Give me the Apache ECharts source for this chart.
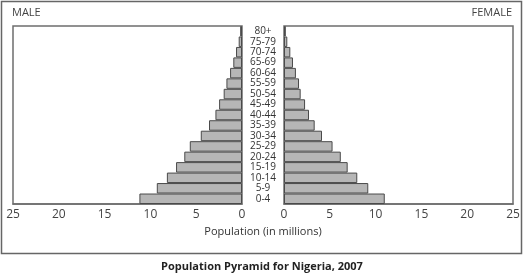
<!DOCTYPE html>
<html>
<head>
    <meta charset="utf-8">
    <script src="https://cdn.jsdelivr.net/npm/echarts@6/dist/echarts.min.js"></script>
    <style>body{margin:0;background:#fff}</style>
</head>
<body>
    <div id="main" style="width: 524px;height:277px;"></div>
    <script type="text/javascript">
        var myChart = echarts.init(document.getElementById('main'));

        // age groups, bottom to top
        var ageGroups = ['0-4', '5-9', '10-14', '15-19', '20-24', '25-29', '30-34', '35-39',
                         '40-44', '45-49', '50-54', '55-59', '60-64', '65-69', '70-74', '75-79', '80+'];
        // population in millions
        var male   = [11.2, 9.3, 8.2, 7.2, 6.3, 5.7, 4.5, 3.6, 2.9, 2.5, 2.0, 1.7, 1.3, 0.95, 0.65, 0.36, 0.2];
        var female = [11.0, 9.2, 8.0, 6.95, 6.2, 5.3, 4.15, 3.35, 2.73, 2.3, 1.82, 1.64, 1.3, 0.98, 0.69, 0.36, 0.2];
        var xTicks = [0, 5, 10, 15, 20, 25];

        var font = '"Open Sans", "Noto Sans", sans-serif';
        var frameColor = '#6e6e6e';

        function xAxisFor(gridIndex, inverse) {
            return {
                type: 'value', gridIndex: gridIndex, inverse: inverse,
                min: xTicks[0], max: xTicks[xTicks.length - 1], interval: 5,
                axisLine: { show: true, lineStyle: { color: frameColor, width: 1.5 } },
                axisTick: { show: false },
                splitLine: { show: false },
                axisLabel: { color: '#444', fontSize: 12, fontFamily: font, margin: 5 }
            };
        }

        var option = {
            animation: false,
            textStyle: { fontFamily: font },
            grid: [
                { left: 13, width: 229, top: 26, height: 178, show: true, borderColor: frameColor, borderWidth: 1.5 },
                { left: 284, width: 229, top: 26, height: 178, show: true, borderColor: frameColor, borderWidth: 1.5 }
            ],
            xAxis: [xAxisFor(0, true), xAxisFor(1, false)],
            yAxis: [
                {
                    type: 'category', gridIndex: 0, data: ageGroups, position: 'right',
                    axisLine: { show: false }, axisTick: { show: false },
                    axisLabel: { interval: 0, color: '#333', fontSize: 10, lineHeight: 10,
                                 fontFamily: font, align: 'center', margin: 21 }
                },
                {
                    type: 'category', gridIndex: 1, data: ageGroups,
                    axisLine: { show: false }, axisTick: { show: false }, axisLabel: { show: false }
                }
            ],
            series: [
                {
                    name: 'Male', type: 'bar', xAxisIndex: 0, yAxisIndex: 0, data: male,
                    barCategoryGap: 0,
                    itemStyle: { color: '#b6b6b6', borderColor: '#4a4a4a', borderWidth: 1 }
                },
                {
                    name: 'Female', type: 'bar', xAxisIndex: 1, yAxisIndex: 1, data: female,
                    barCategoryGap: 0,
                    itemStyle: { color: '#b6b6b6', borderColor: '#4a4a4a', borderWidth: 1 }
                }
            ],
            graphic: [
                { type: 'rect', shape: { x: 1.5, y: 1.5, width: 520, height: 252 },
                  style: { fill: 'none', stroke: '#666', lineWidth: 1.5 }, silent: true },
                { type: 'text', left: 12, top: 7,
                  style: { text: 'MALE', fontSize: 11, fontFamily: font, fill: '#444' } },
                { type: 'text', right: 12, top: 7,
                  style: { text: 'FEMALE', fontSize: 11, fontFamily: font, fill: '#444' } },
                { type: 'text', x: 263, y: 226,
                  style: { text: 'Population (in millions)', fontSize: 11, fontFamily: font, fill: '#333', align: 'center' } },
                { type: 'text', x: 262, y: 261,
                  style: { text: 'Population Pyramid for Nigeria, 2007', fontSize: 11, fontWeight: 'bold', fontFamily: font, fill: '#222', align: 'center' } }
            ]
        };

        myChart.setOption(option);
    </script>
</body>
</html>
